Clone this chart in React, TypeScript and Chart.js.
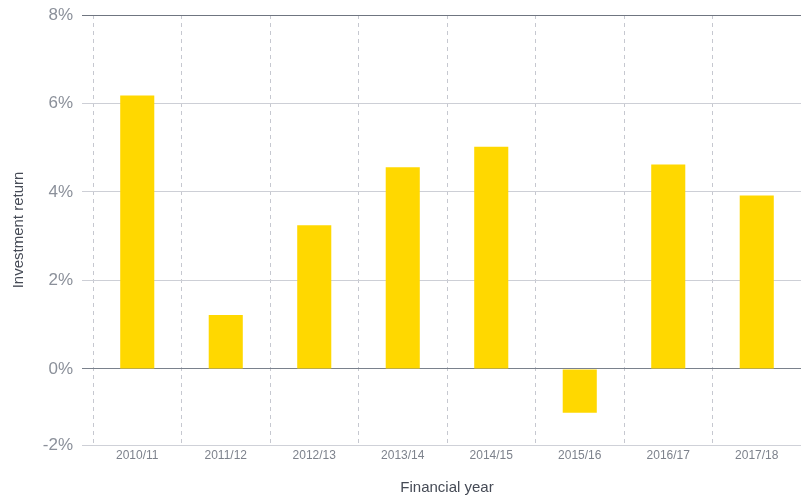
import React, { useEffect, useRef } from "react";
import { Chart, registerables } from "chart.js";

Chart.register(...registerables);

const categories = ["2010/11", "2011/12", "2012/13", "2013/14", "2014/15", "2015/16", "2016/17", "2017/18"];
const returns = [6.18, 1.22, 3.25, 4.56, 5.02, -0.99, 4.62, 3.92];
const yTickValues = [-1.72, 0, 2, 4, 6, 8];
const yTickLabels = ["-2%", "0%", "2%", "4%", "6%", "8%"];

const FONT = "'Liberation Sans', Arial, sans-serif";

export default function App() {
  const ref = useRef<HTMLCanvasElement | null>(null);
  useEffect(() => {
    if (!ref.current) return;
    const chart = new Chart(ref.current, {
      type: "bar",
      data: {
        labels: categories,
        datasets: [
          {
            label: "Investment return",
            data: returns,
            backgroundColor: "#FFD800",
            borderWidth: 0,
            barPercentage: 0.385,
            categoryPercentage: 1,
          },
        ],
      },
      options: {
        responsive: false,
        animation: false,
        layout: { padding: { top: 15, right: 0, left: 0, bottom: 0 } },
        plugins: { legend: { display: false }, tooltip: { enabled: false } },
        scales: {
          x: {
            grid: {
              offset: true,
              drawTicks: false,
              color: "#c6c8d0",
              lineWidth: 1,
            },
            border: { display: true, color: "#cfd1d8", dash: [4, 4], width: 1 },
            ticks: {
              color: "#7d828c",
              font: { family: FONT, size: 12 },
              padding: 3,
              maxRotation: 0,
            },
            title: {
              display: true,
              text: "Financial year",
              color: "#464b56",
              font: { family: FONT, size: 15 },
              padding: { top: 13, bottom: 0 },
            },
            afterFit: (s: any) => {
              s.height = 52;
              s.paddingLeft = 0;
              s.paddingRight = 0;
            },
          },
          y: {
            min: yTickValues[0],
            max: 8,
            afterBuildTicks: (s: any) => {
              s.ticks = yTickValues.map((v) => ({ value: v }));
            },
            grid: {
              drawTicks: true,
              tickLength: 11,
              color: (ctx: any) => {
                const v = ctx.tick ? ctx.tick.value : null;
                if (v === 0) return "#7a818c";
                if (v === 8) return "#6f7580";
                return "#cdcfd6";
              },
              lineWidth: 1,
            },
            border: { display: false },
            ticks: {
              color: "#8b909a",
              font: { family: FONT, size: 17 },
              padding: 9,
              callback: (_v: any, i: number) => yTickLabels[i],
            },
            title: {
              display: true,
              text: "Investment return",
              color: "#464b56",
              font: { family: FONT, size: 15 },
              padding: { top: 10, bottom: 0 },
            },
            afterFit: (s: any) => {
              s.width = 93;
              s.paddingTop = 0;
              s.paddingBottom = 0;
            },
          },
        },
      },
    });
    return () => chart.destroy();
  }, []);
  return (
    <div style={{ position: "fixed", left: 0, top: 0, width: 801, height: 497, background: "#fff" }}>
      <canvas ref={ref} width={801} height={497} style={{ width: 801, height: 497 }} />
    </div>
  );
}
